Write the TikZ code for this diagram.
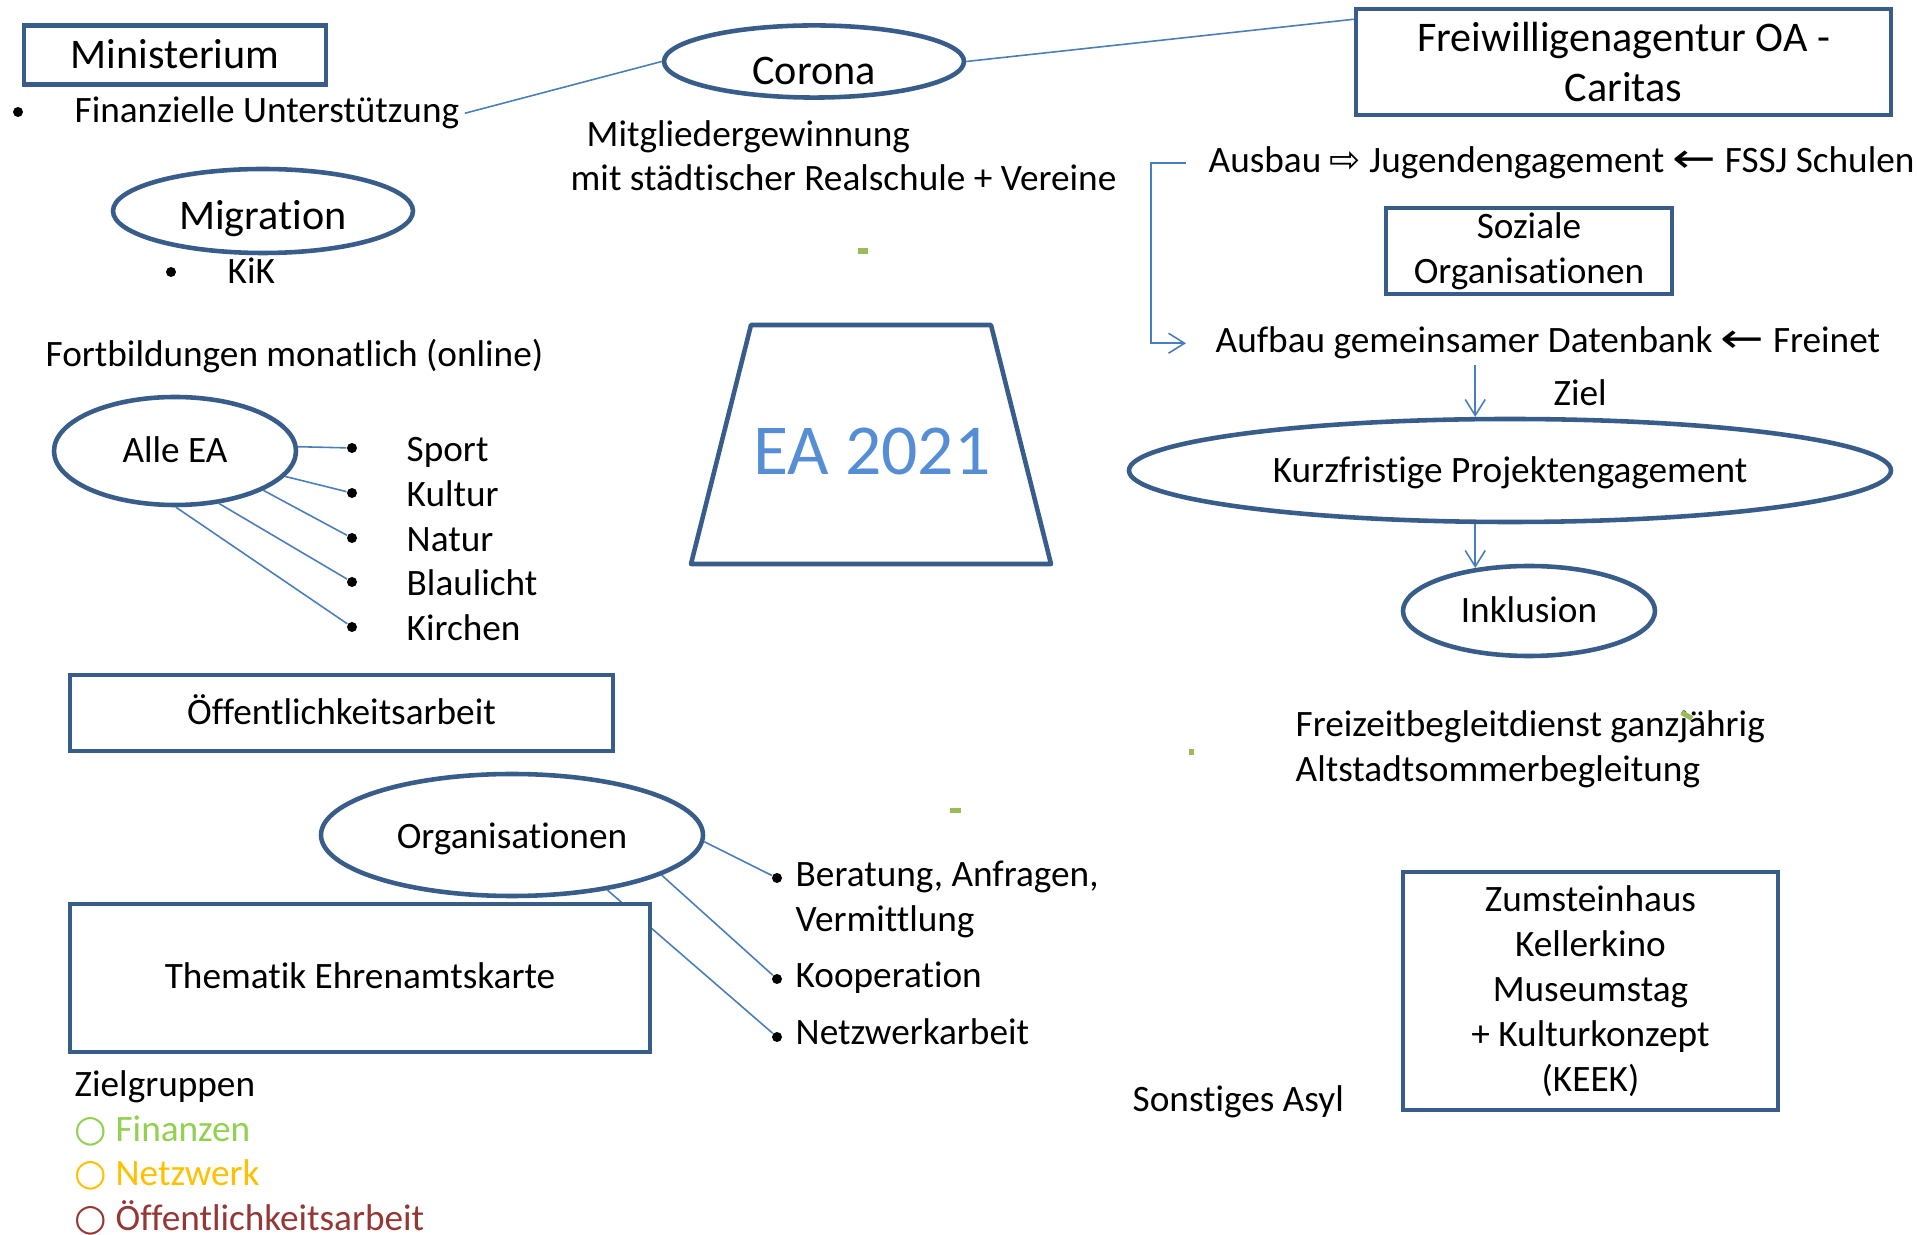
\documentclass[tikz,border=0pt]{standalone}
\usepackage{fontspec}
\usepackage{graphicx}
\setmainfont[Ligatures=NoCommon]{Carlito}
\newfontfamily\symfont{DejaVu Sans}
\usetikzlibrary{shapes.geometric,arrows.meta}

\definecolor{outl}{RGB}{56,93,138}
\definecolor{lineblue}{RGB}{74,126,187}
\definecolor{eablue}{RGB}{85,142,213}
\definecolor{zgreen}{RGB}{146,208,80}
\definecolor{zorange}{RGB}{255,192,0}
\definecolor{zred}{RGB}{149,55,53}
\definecolor{specks}{RGB}{155,187,89}
\newcommand\normsize{\fontsize{10.6pt}{12.8pt}\selectfont}
\newcommand\bigsize{\fontsize{12pt}{14.2pt}\selectfont}
\newcommand\larr{\scalebox{1.4}[1.1]{\symfont ←}}

\begin{document}
\begin{tikzpicture}[x=0.1mm,y=-0.1mm,font=\normsize]
	\tikzstyle{box}=[rectangle,draw=outl,line width=1.3pt,fill=white,inner sep=0pt]
	\tikzstyle{oval}=[ellipse,draw=outl,line width=1.3pt,fill=white,inner sep=0pt]
	\tikzstyle{one}=[text height=3.2mm,text depth=0.8mm]
	\tikzstyle{txt}=[inner sep=0.5mm,anchor=base west]
	\tikzstyle{dot}=[circle,fill=black,inner sep=0pt,minimum size=1mm]
	\tikzstyle{conn}=[draw=lineblue,line width=0.45pt]
	\tikzstyle{arr}=[conn,-{Straight Barb[length=1.6mm,width=2mm]}]

	\def \dotx{352}
	\def \itemx{401}
	\def \orgx{777}
	\def \orgtx{790}

	\useasboundingbox (0,0) rectangle (1917,1235);

	% oben links
	\node[box,one,font=\bigsize,text height=3.5mm,minimum width=30.2mm,minimum height=5.9mm] (mini) at (175,55) {Ministerium};
	\node[dot] (findot) at (18,112) {};
	\node[txt] (fin) at (69,123) {Finanzielle Unterstützung};
	\node[oval,font=\bigsize,text height=4.2mm,text depth=0.4mm,minimum width=30mm,minimum height=8.4mm] (migr) at (263,211) {Migration};
	\node[dot] (kikdot) at (171,272) {};
	\node[txt] (kik) at (222,284) {KiK};
	\node[txt] (fortb) at (40,367) {Fortbildungen monatlich (online)};

	% Mitte oben
	\node[oval,font=\bigsize,text height=4.9mm,text depth=0.2mm,minimum width=30mm,minimum height=7.2mm] (corona) at (814,61.5) {Corona};
	\node[txt] (mitgl1) at (581,147) {Mitgliedergewinnung};
	\node[txt] (mitgl2) at (565,191) {mit städtischer Realschule + Vereine};
	\draw[draw=outl,line width=1.3pt,line join=round] (691,564) -- (751,325) -- (991,325) -- (1051,564) -- cycle;
	\node[text=eablue,font=\fontsize{20.4pt}{24pt}\selectfont,inner sep=0pt,anchor=base] (ea) at (872,475) {EA 2021};

	% oben rechts
	\node[box,font=\bigsize,align=center,minimum width=53.5mm,minimum height=10.6mm] (freiw) at (1623.5,62) {Freiwilligenagentur OA -\\Caritas};
	\node[txt] (ausbau) at (1203,173) {Ausbau {\symfont ⇨} Jugendengagement \larr{} FSSJ Schulen};
	\node[box,align=center,minimum width=28.6mm,minimum height=8.6mm] (sozial) at (1529,251) {Soziale\\Organisationen};
	\node[txt] (aufbau) at (1210,353) {Aufbau gemeinsamer Datenbank \larr{} Freinet};
	\node[txt] (ziel) at (1548,406) {Ziel};
	\node[oval,one,minimum width=76.2mm,minimum height=10.3mm] (kurz) at (1510,470.5) {Kurzfristige Projektengagement};
	\node[oval,one,minimum width=25.2mm,minimum height=9mm] (inkl) at (1529,611) {Inklusion};
	\node[txt] (freiz) at (1290,737) {Freizeitbegleitdienst ganzjährig};
	\node[txt] (altst) at (1290,782) {Altstadtsommerbegleitung};

	\draw[conn] (fin.east) -- (corona.west);
	\draw[conn] (corona.east) -- (freiw.171);
	\draw[arr] ([xshift=-1.7mm]ausbau.west) -- ++(-35,0) |- ([xshift=-2.4mm]aufbau.west);
	\draw[arr] (aufbau.south -| kurz.123) -- (kurz.123);
	\draw[arr] (kurz.-123) -- (kurz.-123 |- inkl.141);

	% Alle EA
	\node[oval,one,minimum width=24.2mm,minimum height=10.8mm] (alle) at (175,451) {Alle EA};
	\node[dot] (d1) at (\dotx,448) {};
	\node[dot] (d2) at (\dotx,493) {};
	\node[dot] (d3) at (\dotx,538) {};
	\node[dot] (d4) at (\dotx,582) {};
	\node[dot] (d5) at (\dotx,627) {};
	\node[txt] (sport) at (\itemx,462) {Sport};
	\node[txt] (kultur) at (\itemx,507) {Kultur};
	\node[txt] (natur) at (\itemx,552) {Natur};
	\node[txt] (blaul) at (\itemx,596) {Blaulicht};
	\node[txt] (kirch) at (\itemx,641) {Kirchen};
	\draw[conn] (alle.2) -- (d1);
	\draw[conn] (alle.-13) -- (d2);
	\draw[conn] (alle.-24) -- (d3);
	\draw[conn] (alle.-50) -- (d4);
	\draw[conn] (alle.-89) -- (d5);

	% unten links
	\node[box,one,minimum width=54.3mm,minimum height=7.6mm] (oeff) at (341.5,713) {Öffentlichkeitsarbeit};
	\node[oval,one,text height=3.5mm,minimum width=38.2mm,minimum height=12.2mm] (orga) at (512,835) {Organisationen};
	\node[dot] (od1) at (\orgx,878) {};
	\node[dot] (od2) at (\orgx,979) {};
	\node[dot] (od3) at (\orgx,1037) {};
	\draw[conn] (orga.-2) -- (od1);
	\draw[conn] (orga.-15) -- (od2);
	\draw[conn] (orga.-30) -- (od3);
	\node[box,one,text height=3.0mm,minimum width=58mm,minimum height=14.8mm] (them) at (360,978) {Thematik Ehrenamtskarte};
	\node[txt] (berat) at (\orgtx,887) {Beratung, Anfragen,};
	\node[txt] (verm) at (\orgtx,932) {Vermittlung};
	\node[txt] (koop) at (\orgtx,988) {Kooperation};
	\node[txt] (netz) at (\orgtx,1045) {Netzwerkarbeit};

	\node[txt] (zielgr) at (69,1097) {Zielgruppen};
	\node[txt,text=zgreen] (finz) at (69,1142) {{\symfont ○} Finanzen};
	\node[txt,text=zorange] (netzw) at (69,1186) {{\symfont ○} Netzwerk};
	\node[txt,text=zred] (oeffz) at (69,1230) {{\symfont ○} Öffentlichkeitsarbeit};

	% unten rechts
	\node[txt] (sonst) at (1127,1112) {Sonstiges Asyl};
	\node[box,align=center,minimum width=37.5mm,minimum height=23.8mm] (zumst) at (1590.5,991) {Zumsteinhaus\\Kellerkino\\Museumstag\\+ Kulturkonzept\\(KEEK)};

	%\draw[help lines] (0,0) grid[step=100] (1917,1235);
	\fill[specks] (858,248) rectangle (868,254);
	\fill[specks] (950,808) rectangle (961,813);
	\fill[specks] (1189,749) rectangle (1194,755);
	\fill[specks,rotate around={-30:(1687,715)}] (1681,713) rectangle (1693,718);
\end{tikzpicture}
\end{document}
